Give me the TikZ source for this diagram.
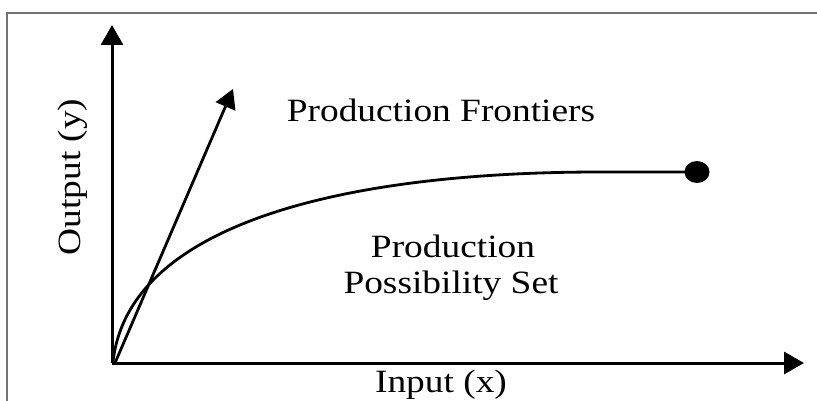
\documentclass[tikz,border=0pt]{standalone}
\usepackage{fontspec}
\setmainfont{Liberation Serif}[FakeStretch=1.15]
\usetikzlibrary{arrows.meta}
\begin{document}
\begin{tikzpicture}[x=1pt,y=-1pt,
  lbl/.style={inner sep=0pt,anchor=base,font=\fontsize{32.5}{36}\selectfont},
  axis/.style={line width=3pt,-{Triangle[length=20pt,width=22pt]}},
  curveline/.style={line width=2.8pt},
  frameline/.style={line width=1.5pt,draw=black!55}]
\useasboundingbox (0,0) rectangle (817,401);
% frame
\coordinate (fa) at (7,401);
\coordinate (fb) at (7,13);
\coordinate (fc) at (817,13);
\draw[frameline] (fa) -- (fb) -- (fc);
% axes
\coordinate (O) at (112,363);
\coordinate (ytip) at (112,25);
\coordinate (xtip) at (804,363);
\coordinate (raystart) at (115,363);
\coordinate (raytip) at (233,89);
\draw[axis] (O) -- (ytip);
\draw[axis] (O) -- (xtip);
\draw[line width=2.8pt,-{Triangle[length=19pt,width=21pt]}] (raystart) -- (raytip);
% frontier curve
\coordinate (cstart) at (113,362);
\coordinate (cflat) at (600,172);
\coordinate (dot) at (697,172);
\draw[curveline] (cstart) .. controls (128,225) and (340,172) .. (cflat) -- (dot);
\fill (dot) ellipse [x radius=12.5pt, y radius=11pt];
% labels
\node[lbl] (pf) at (441,122) {Production Frontiers};
\node[lbl] (ppsA) at (453,257) {Production};
\node[lbl] (ppsB) at (451,293) {Possibility Set};
\node[lbl] (xl) at (441,392) {Input (x)};
\node[lbl,rotate=90] (yl) at (80,177) {Output (y)};
\end{tikzpicture}
\end{document}
